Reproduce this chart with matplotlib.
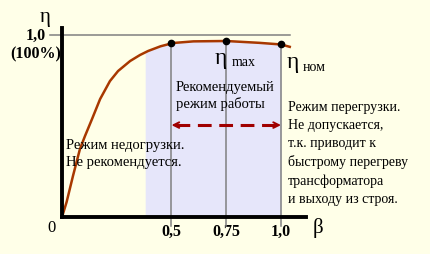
import numpy as np
import matplotlib.pyplot as plt

# efficiency curve
beta = [0.0, 0.021, 0.05, 0.082, 0.105, 0.137, 0.174, 0.219, 0.256, 0.311,
        0.356, 0.393, 0.45, 0.507, 0.6, 0.75, 0.9, 1.0, 1.04]
eta = [0.0, 0.082, 0.225, 0.374, 0.445, 0.538, 0.648, 0.747, 0.802, 0.857,
       0.89, 0.912, 0.938, 0.956, 0.965, 0.967, 0.957, 0.948, 0.935]

marks = [0.5, 0.75, 1.0]
mark_labels = ["0,5", "0,75", "1,0"]
shade_from = 0.38

bg = "#ffffe8"
curve_c = "#a83800"
grid_c = "#808080"
arrow_c = "#a00000"
serif = "Liberation Serif"

fig = plt.figure(figsize=(4.31, 2.55), dpi=100, facecolor=bg)
W, H = 431, 255
ax = fig.add_axes([62 / W, (H - 218) / H, (306 - 62) / W, (218 - 29) / H])
ax.set_facecolor(bg)
ax.set_xlim(0, (306 - 62) / 219)
ax.set_ylim(0, (218 - 29) / 182)

for s in ["top", "right"]:
    ax.spines[s].set_visible(False)
for s in ["left", "bottom"]:
    ax.spines[s].set_linewidth(2.8)
    ax.spines[s].set_color("black")
    ax.spines[s].set_zorder(5)

b = np.array(beta)
e = np.array(eta)
bb = np.linspace(shade_from, 1.0, 200)
ax.fill_between(bb, 0, np.interp(bb, b, e), color="#e6e6fa", lw=0, zorder=1)

# guide lines
ax.plot([-0.055, 1.04], [1.0, 1.0], color=grid_c, lw=1.1, clip_on=False, zorder=2)
for m in marks:
    ax.plot([m, m], [-0.05, np.interp(m, b, e)], color=grid_c, lw=1.1,
            clip_on=False, zorder=2)

ax.plot(b, e, color=curve_c, lw=1.8, zorder=3)
ax.plot(marks, np.interp(marks, b, e), "o", color="black", ms=4.5, zorder=4)

ax.set_xticks(marks)
ax.set_xticklabels(mark_labels, fontfamily=serif, fontweight="bold", fontsize=11.5)
ax.tick_params(axis="x", length=0, pad=4)
ax.set_yticks([])

ax.text(-0.05, -0.055, "0", ha="center", va="center", fontfamily=serif,
        fontsize=12)
ax.text(1.169, -0.055, "β", ha="center", va="center", fontfamily=serif, fontsize=15)
ax.text(-0.078, 1.10, "η", ha="center", va="center", fontfamily=serif, fontsize=15)
ax.text(-0.119, 1.0, "1,0", ha="center", va="center", fontfamily=serif,
        fontweight="bold", fontsize=11.5)
ax.text(-0.119, 0.90, "(100%)", ha="center", va="center", fontfamily=serif,
        fontweight="bold", fontsize=11.5)

ax.text(0.726, 0.879, "η", ha="center", va="center", fontfamily=serif, fontsize=17)
ax.text(0.776, 0.855, "max", ha="left", va="center", fontfamily=serif, fontsize=10)
ax.text(1.055, 0.852, "η", ha="center", va="center", fontfamily=serif, fontsize=17)
ax.text(1.10, 0.826, "ном", ha="left", va="center", fontfamily=serif, fontsize=10)

ax.text(0.52, 0.753, "Рекомендуемый\nрежим работы", ha="left", va="top",
        fontfamily=serif, fontsize=10.5, linespacing=1.3)
ax.text(0.018, 0.434, "Режим недогрузки.\nНе рекомендуется.", ha="left", va="top",
        fontfamily=serif, fontsize=10.5, linespacing=1.38)
ax.text(1.032, 0.643, "Режим перегрузки.\nНе допускается,\nт.к. приводит к\n"
        "быстрому перегреву\nтрансформатора\nи выходу из строя.",
        ha="left", va="top", fontfamily=serif, fontsize=10,
        linespacing=1.5, clip_on=False)

ax.plot([0.52, 0.98], [0.505, 0.505], color=arrow_c, lw=2.2,
        linestyle=(0, (4.5, 2.5)), zorder=4)
ax.annotate("", xy=(0.5, 0.505), xytext=(0.53, 0.505),
            arrowprops=dict(arrowstyle="->", color=arrow_c, lw=1.4,
                            mutation_scale=10, shrinkA=0, shrinkB=0))
ax.annotate("", xy=(1.0, 0.505), xytext=(0.97, 0.505),
            arrowprops=dict(arrowstyle="->", color=arrow_c, lw=1.4,
                            mutation_scale=10, shrinkA=0, shrinkB=0))

fig.savefig("out.png", dpi=100, facecolor=bg)
